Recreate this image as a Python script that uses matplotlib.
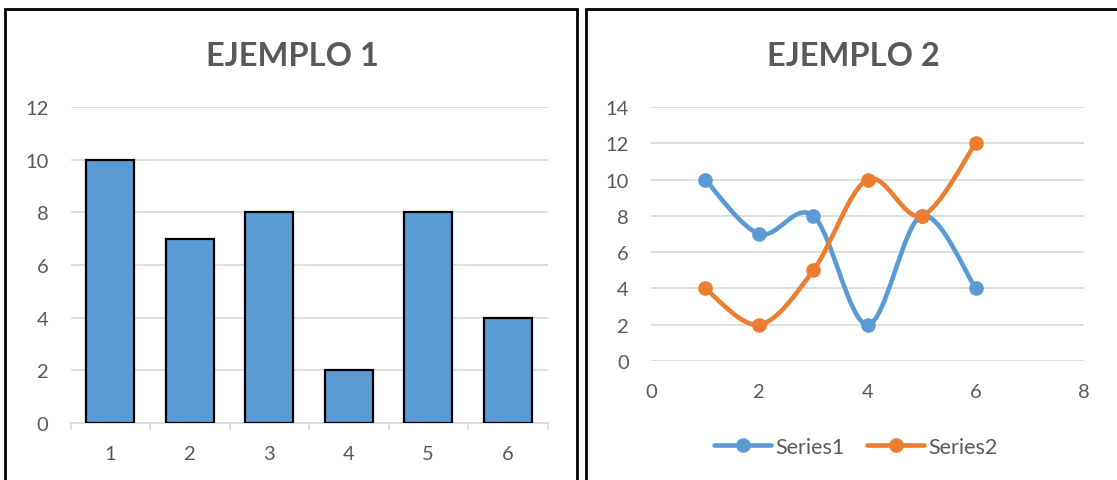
import matplotlib
matplotlib.use("Agg")
import matplotlib.pyplot as plt
from matplotlib.path import Path
from matplotlib.patches import PathPatch, Rectangle
from matplotlib.lines import Line2D
import numpy as np

plt.rcParams['font.family'] = ['Lato', 'DejaVu Sans']

# ---- data ----
bar_categories = [1, 2, 3, 4, 5, 6]
bar_values = [10, 7, 8, 2, 8, 4]

line_x = [1, 2, 3, 4, 5, 6]
series1 = [10, 7, 8, 2, 8, 4]
series2 = [4, 2, 5, 10, 8, 12]
series_names = ["Series1", "Series2"]

left_yticks = [0, 2, 4, 6, 8, 10, 12]
right_yticks = [0, 2, 4, 6, 8, 10, 12, 14]
right_xticks = [0, 2, 4, 6, 8]

BLUE = "#5B9BD5"
ORANGE = "#ED7D31"
TEXT = "#595959"
GRID = "#D9D9D9"
TICK_SIZE = 14.5

W, H = 1117, 481
fig = plt.figure(figsize=(W / 100, H / 100), dpi=100)


def fx(px):
    return px / W


def fy(py):
    return 1 - py / H


def smooth_path(xs, ys):
    """Cubic Bezier path through the points (Catmull-Rom style smoothing)."""
    pts = np.column_stack([xs, ys]).astype(float)
    n = len(pts)
    verts = [pts[0]]
    codes = [Path.MOVETO]
    for i in range(n - 1):
        p0 = pts[i - 1] if i > 0 else pts[i]
        p1 = pts[i]
        p2 = pts[i + 1]
        p3 = pts[i + 2] if i + 2 < n else pts[i + 1]
        c1 = p1 + (p2 - p0) / 6.0
        c2 = p2 - (p3 - p1) / 6.0
        verts += [c1, c2, p2]
        codes += [Path.CURVE4] * 3
    return Path(verts, codes)


# ---- panel frames ----
fig.add_artist(Rectangle((fx(5), fy(530)), fx(572), fy(10) - fy(530),
                         transform=fig.transFigure, fill=False,
                         edgecolor="black", linewidth=2))
fig.add_artist(Rectangle((fx(586), fy(530)), fx(600), fy(10) - fy(530),
                         transform=fig.transFigure, fill=False,
                         edgecolor="black", linewidth=2))

# ---- left: column chart ----
ax1 = fig.add_axes([fx(70.5), fy(424), fx(547.5) - fx(70.5), fy(108) - fy(424)])
ax1.bar(bar_categories, bar_values, width=0.6, color=BLUE,
        edgecolor="black", linewidth=1.6, zorder=3)
ax1.set_xlim(0.5, 6.5)
ax1.set_ylim(0, 12)
ax1.set_yticks(left_yticks)
ax1.set_xticks(bar_categories)
ax1.set_xticks(np.arange(0.5, 7.0, 1.0), minor=True)
ax1.yaxis.grid(True, color=GRID, linewidth=1.2, zorder=0)
ax1.set_axisbelow(True)
for s in ["top", "right", "left"]:
    ax1.spines[s].set_visible(False)
ax1.spines["bottom"].set_color(GRID)
ax1.spines["bottom"].set_linewidth(1.2)
ax1.tick_params(axis="y", length=0, pad=16, labelsize=TICK_SIZE,
                labelcolor=TEXT)
ax1.tick_params(axis="x", which="major", length=0, pad=16,
                labelsize=TICK_SIZE, labelcolor=TEXT)
ax1.tick_params(axis="x", which="minor", length=5, width=1.2, color=GRID)
fig.text(fx(292), fy(56), "EJEMPLO 1", ha="center", va="center",
         fontsize=23.5, fontweight="bold", color=TEXT)

# ---- right: smoothed scatter lines ----
ax2 = fig.add_axes([fx(651), fy(362), fx(1084) - fx(651), fy(108) - fy(362)])
for ys, col in [(series1, BLUE), (series2, ORANGE)]:
    ax2.add_patch(PathPatch(smooth_path(line_x, ys), facecolor="none",
                            edgecolor=col, linewidth=3.3,
                            capstyle="round", joinstyle="round", zorder=3))
    ax2.plot(line_x, ys, "o", color=col, markersize=9.5, zorder=4)
ax2.set_xlim(0, 8)
ax2.set_ylim(0, 14)
ax2.set_xticks(right_xticks)
ax2.set_yticks(right_yticks)
ax2.yaxis.grid(True, color=GRID, linewidth=1.2, zorder=0)
ax2.set_axisbelow(True)
for s in ["top", "right", "left", "bottom"]:
    ax2.spines[s].set_visible(False)
ax2.tick_params(axis="both", length=0, labelsize=TICK_SIZE, labelcolor=TEXT)
ax2.tick_params(axis="y", pad=16)
ax2.tick_params(axis="x", pad=16)
fig.text(fx(853), fy(56), "EJEMPLO 2", ha="center", va="center",
         fontsize=23.5, fontweight="bold", color=TEXT)

handles = [Line2D([], [], color=c, linewidth=3.3, marker="o", markersize=9.5,
                  solid_capstyle="round") for c in (BLUE, ORANGE)]
leg = fig.legend(handles, series_names, loc="center",
                 bbox_to_anchor=(fx(856), fy(448)), ncol=2, frameon=False,
                 fontsize=15.5, handlelength=2.65, handletextpad=0.2,
                 columnspacing=1.05, borderpad=0)
for t in leg.get_texts():
    t.set_color(TEXT)

fig.savefig("out.png", dpi=100)
